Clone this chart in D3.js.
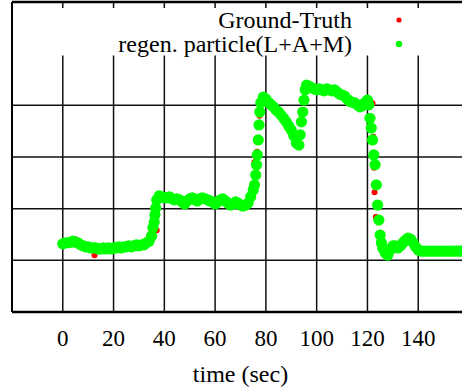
<!DOCTYPE html>
<html><head><meta charset="utf-8">
<script src="https://cdn.jsdelivr.net/npm/d3@7"></script>
<style>body{margin:0;background:#fff;}svg{display:block;}</style>
</head><body><svg id="c" width="462" height="390"></svg>
<script>
// ---- data ----
const xTicks = [0, 20, 40, 60, 80, 100, 120, 140];
const xLabel = "time (sec)";
const legendLabels = ["Ground-Truth", "regen. particle(L+A+M)"];
const colors = ["#ff0000", "#00ff00"];

const gtTime = [0,2,4,5,6,8,10,12.5,14,16,18,20,22,24,26,28,30,32,34,35,36,37,37.5,38,40,42,44,46,48,50,52,54,56,58,60,62,64,66,68,70,72,74,75,75.5,76.5,77.5,78,80,82,84,86,88,90,91.3,92,93,94,95,96,98,100,102,104,106,108,110,112,114,116,118,120,121,122,122.3,122.6,122.8,123.3,124,125,126,128,130,132,134,136,138,140,142,144,146,148,150,152,154,156,158,160];
const gtValue = [1.33,1.35,1.38,1.41,1.35,1.29,1.26,1.10,1.23,1.23,1.23,1.24,1.25,1.26,1.27,1.28,1.29,1.31,1.47,1.56,1.60,1.58,2.15,2.23,2.21,2.21,2.18,2.17,2.12,2.18,2.17,2.19,2.19,2.15,2.11,2.17,2.15,2.08,2.12,2.08,2.07,2.20,2.40,2.90,3.10,3.80,4.05,4.12,4.01,3.91,3.81,3.68,3.52,3.43,3.28,3.25,3.83,4.12,4.38,4.34,4.30,4.30,4.31,4.28,4.26,4.20,4.12,4.06,4.01,3.99,4.08,4.10,4.04,3.39,2.79,2.32,1.84,2.03,1.50,1.25,1.10,1.27,1.24,1.33,1.42,1.33,1.20,1.18,1.18,1.18,1.18,1.18,1.18,1.18,1.18,1.18,1.18];

const pfTime = [0,1,2,3,4,5,6,7,8,9,10,11,12,13,14,15,16,17,18,19,20,21,22,23,24,25,26,27,28,29,30,31,32,33,34,35,35.5,36,36.3,36.6,37,38,39,40,41,42,43,44,45,46,47,48,49,50,51,52,53,54,55,56,57,58,59,60,61,62,63,64,65,66,67,68,69,70,71,72,73,74,75,75.5,76,76.3,76.6,77,77.3,77.6,78,79,80,81,82,83,84,85,86,87,88,89,90,91,92,93,93.5,94,94.5,95,95.5,96,97,98,99,100,101,102,103,104,105,106,107,108,109,110,111,112,113,114,115,116,117,118,119,120,120.5,121,121.5,122,122.5,123,123.5,124,124.5,125,125.5,126,127,128,129,130,131,132,133,134,135,136,137,138,139,140,141,142,143,144,145,146,147,148,149,150,151,152,153,154,155,156,157,158,159,160];
const pfValue = [1.32,1.34,1.34,1.35,1.37,1.35,1.34,1.30,1.28,1.26,1.26,1.24,1.24,1.24,1.22,1.22,1.24,1.22,1.24,1.22,1.24,1.24,1.26,1.24,1.26,1.26,1.28,1.26,1.28,1.30,1.28,1.30,1.30,1.34,1.37,1.47,1.63,1.74,1.88,2.01,2.17,2.25,2.23,2.21,2.21,2.23,2.19,2.17,2.19,2.17,2.13,2.09,2.15,2.19,2.21,2.17,2.15,2.19,2.21,2.19,2.17,2.15,2.13,2.09,2.13,2.17,2.19,2.15,2.11,2.07,2.09,2.13,2.11,2.07,2.05,2.07,2.11,2.23,2.36,2.46,2.65,2.85,3.04,3.33,3.62,3.87,4.05,4.16,4.12,4.06,4.01,3.97,3.91,3.87,3.81,3.75,3.68,3.60,3.52,3.41,3.27,3.23,3.43,3.68,3.87,4.10,4.30,4.39,4.37,4.34,4.32,4.30,4.32,4.30,4.28,4.32,4.30,4.28,4.30,4.26,4.22,4.20,4.18,4.12,4.08,4.06,4.05,4.01,3.97,3.99,4.05,4.10,4.01,3.75,3.56,3.33,3.04,2.85,2.46,2.07,1.78,1.49,1.34,1.24,1.14,1.10,1.20,1.28,1.28,1.24,1.28,1.34,1.39,1.43,1.41,1.34,1.26,1.20,1.18,1.18,1.18,1.18,1.18,1.18,1.18,1.18,1.18,1.18,1.18,1.18,1.18,1.18,1.18,1.18,1.18,1.18,1.18,1.18];

// ---- drawing ----
const svg = d3.select("#c");
const L = 12, R = 469, T = 2, B = 312;
const x = d3.scaleLinear().domain([-20, 160]).range([L, R]);
const y = d3.scaleLinear().domain([0, 6]).range([B, T]);
const serif = "'Liberation Serif','Times New Roman',serif";

// grid
const g = svg.append("g");
g.selectAll("line.v").data(xTicks).join("line")
  .attr("x1", d => x(d)).attr("x2", d => x(d)).attr("y1", T).attr("y2", B)
  .attr("stroke", "#111").attr("stroke-width", 1.5);
g.selectAll("line.h").data(d3.range(1, 6)).join("line")
  .attr("x1", L).attr("x2", R).attr("y1", d => y(d)).attr("y2", d => y(d))
  .attr("stroke", "#111").attr("stroke-width", 1.5);

// opaque legend box
svg.append("rect").attr("x", L + 1).attr("y", 8).attr("width", R - L).attr("height", 47.5).attr("fill", "#fff");

// border
svg.append("line").attr("x1", L).attr("x2", R).attr("y1", T).attr("y2", T).attr("stroke", "#000").attr("stroke-width", 2.5);
svg.append("line").attr("x1", L).attr("x2", R).attr("y1", B).attr("y2", B).attr("stroke", "#000").attr("stroke-width", 2.5);
svg.append("line").attr("x1", L).attr("x2", L).attr("y1", T).attr("y2", B).attr("stroke", "#000").attr("stroke-width", 2);

// data
const gt = gtTime.map((t, i) => [t, gtValue[i]]);
const pf = pfTime.map((t, i) => [t, pfValue[i]]);
svg.append("g").selectAll("circle").data(gt).join("circle")
  .attr("cx", d => x(d[0])).attr("cy", d => y(d[1])).attr("r", 3).attr("fill", colors[0]);
svg.append("g").selectAll("circle").data(pf).join("circle")
  .attr("cx", d => x(d[0])).attr("cy", d => y(d[1])).attr("r", 5.6).attr("fill", colors[1]);

// tick labels
svg.append("g").selectAll("text").data(xTicks).join("text")
  .attr("x", d => x(d)).attr("y", 346).attr("text-anchor", "middle")
  .attr("font-family", serif).attr("font-size", 23).attr("fill", "#000").text(d => d);
svg.append("text").attr("x", (L + R) / 2).attr("y", 382).attr("text-anchor", "middle")
  .attr("font-family", serif).attr("font-size", 24).attr("fill", "#000").text(xLabel);

// legend
legendLabels.forEach((lab, i) => {
  svg.append("text").attr("x", 352).attr("y", 28 + i * 24).attr("text-anchor", "end")
    .attr("font-family", serif).attr("font-size", 24).attr("fill", "#000").text(lab);
  svg.append("circle").attr("cx", 399).attr("cy", 20 + i * 24).attr("r", i === 0 ? 2.6 : 3.2).attr("fill", colors[i]);
});
</script></body></html>
